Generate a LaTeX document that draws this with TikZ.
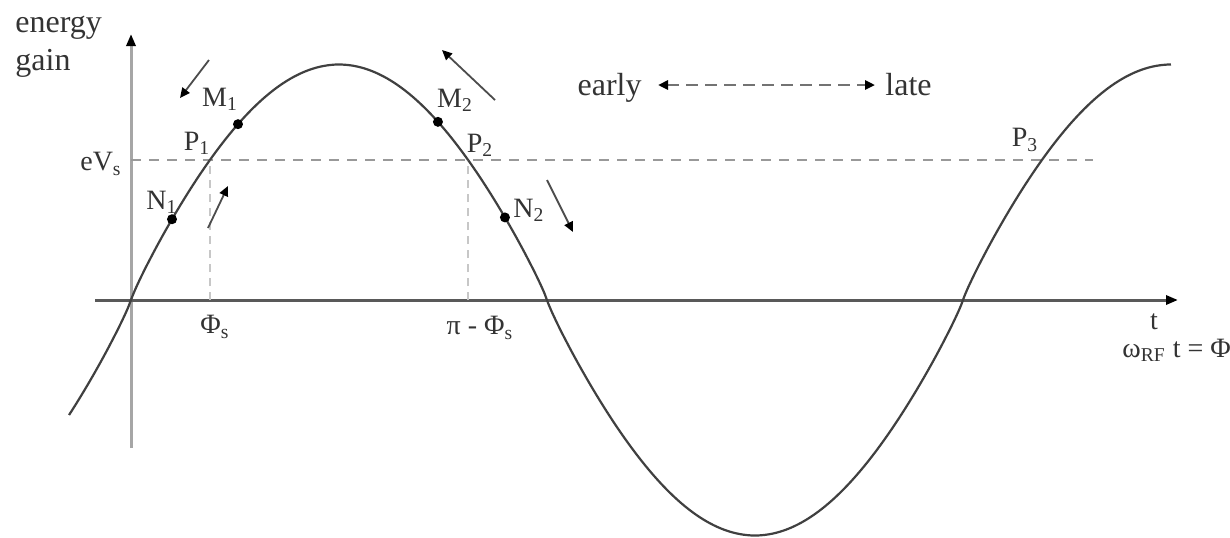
\documentclass[tikz,border=0pt]{standalone}
\usepackage{fontspec}
\setmainfont{Liberation Serif}
\usetikzlibrary{arrows.meta}
\begin{document}
\begin{tikzpicture}[x=0.5pt,y=-0.5pt,
  declare function={px(\t)=131+\t*416/pi; py(\t)=300-235.5*sin(\t r)*(abs(sin(\t r))+0.001)^(-0.1);},
  lbl/.style={font=\fontsize{14}{16}\selectfont, text=black!80, inner sep=0pt},
  big/.style={font=\fontsize{16}{19}\selectfont, text=black!80, inner sep=0pt},
  dot/.style={circle, fill=black, inner sep=0pt, minimum size=5pt},
  curve/.style={line width=1.1pt, black!75},
  haxis/.style={line width=1.5pt, black!65, -{Triangle[length=6pt,width=4.5pt,color=black]}},
  vaxis/.style={line width=1.5pt, black!35, -{Triangle[length=6pt,width=4.5pt,color=black]}},
  evline/.style={line width=0.8pt, black!40, dash pattern=on 5pt off 4pt},
  vdash/.style={line width=1pt, black!22, dash pattern=on 4pt off 3pt},
  motion/.style={line width=0.9pt, black!70, -{Triangle[length=5pt,width=4.5pt,color=black]}},
  elarrow/.style={line width=1.3pt, black!55, dash pattern=on 6pt off 3.5pt,
     {Triangle[length=5pt,width=4.5pt,color=black]}-{Triangle[length=5pt,width=4.5pt,color=black]}}
]
\useasboundingbox (0,0) rectangle (1230,537);

% axes
\coordinate (xs) at (95,300);
\coordinate (xe) at (1178,300);
\coordinate (ys) at (131,448);
\coordinate (ye) at (131,34);
\draw[vaxis] (ys) -- (ye);
\draw[haxis] (xs) -- (xe);

% eVs level
\coordinate (evL) at (131,160);
\coordinate (evR) at (1093,160);
\draw[evline] (evL) -- (evR);

% sine curve
\draw[curve] plot[domain=-0.468:7.854, samples=300, smooth] ({px(\x)},{py(\x)});

% stable phase points
\coordinate (p1) at ({px(0.596)},160);
\coordinate (p2) at ({px(pi-0.596)},160);
\coordinate (p3) at ({px(2*pi+0.596)},160);
\coordinate (p1b) at ({px(0.596)},300);
\coordinate (p2b) at ({px(pi-0.596)},300);
\draw[vdash] (p1b) -- (p1);
\draw[vdash] (p2b) -- (p2);

% particles
\node[dot] (m1) at ({px(0.808)},{py(0.808)}) {};
\node[dot] (n1) at ({px(0.3096)},{py(0.3096)}) {};
\node[dot] (m2) at ({px(2.318)},{py(2.318)}) {};
\node[dot] (n2) at ({px(2.824)},{py(2.824)}) {};

% motion arrows
\coordinate (a1s) at (209,60);  \coordinate (a1e) at (180,98);
\coordinate (a2s) at (208,228); \coordinate (a2e) at (228,186);
\coordinate (a3s) at (495,100); \coordinate (a3e) at (442,50);
\coordinate (a4s) at (547,180); \coordinate (a4e) at (573,232);
\draw[motion] (a1s) -- (a1e);
\draw[motion] (a2s) -- (a2e);
\draw[motion] (a3s) -- (a3e);
\draw[motion] (a4s) -- (a4e);

% early / late
\node[big, anchor=base east] (early) at (642,95) {early};
\node[big, anchor=base west] (late) at (885,95) {late};
\draw[elarrow] ([xshift=8pt]early.east |- 0,85) coordinate (elA) -- ([xshift=-5pt]late.west |- 0,85) coordinate (elB);

% labels
\node[big, anchor=base west] (lenergy) at (15,32) {energy};
\node[big, anchor=base west] (lgain) at (15,70) {gain};
\node[lbl, anchor=east] (lev) at (122,164) {eV\textsubscript{s}};
\node[lbl] (lp1) at (197,143) {P\textsubscript{1}};
\node[lbl] (lm1) at (220,99) {M\textsubscript{1}};
\node[lbl] (ln1) at (162,202) {N\textsubscript{1}};
\node[lbl] (lm2) at (455,100) {M\textsubscript{2}};
\node[lbl] (lp2) at (480,145) {P\textsubscript{2}};
\node[lbl] (ln2) at (529,210) {N\textsubscript{2}};
\node[lbl] (lp3) at (1025,140) {P\textsubscript{3}};
\node[lbl] (lphis) at (215,327) {Φ\textsubscript{s}};
\node[lbl] (lpiphis) at (480,328) {π - Φ\textsubscript{s}};
\node[lbl] (lt) at (1154,322) {t};
\node[lbl, anchor=west] (lomega) at (1122,350) {ω\textsubscript{RF} t = Φ};
\end{tikzpicture}
\end{document}
